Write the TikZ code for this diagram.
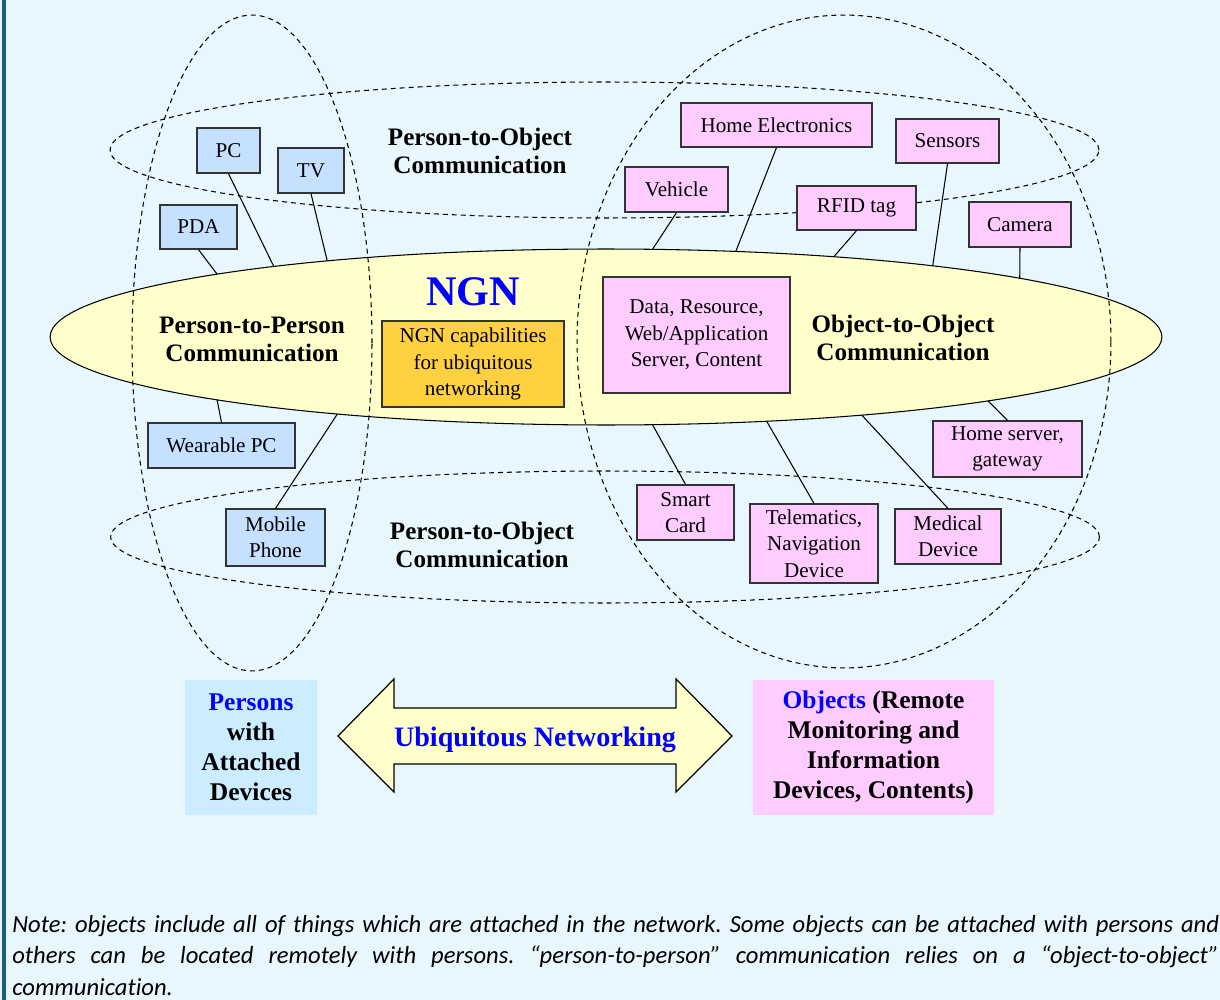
\documentclass[tikz,border=0pt]{standalone}
\usepackage{fontspec}
\setmainfont{Liberation Serif}
\newfontfamily\notefont[Ligatures=NoCommon]{Carlito}
\usetikzlibrary{shapes.geometric}
\definecolor{bg}{RGB}{232,247,253}
\definecolor{edge}{RGB}{27,94,128}
\definecolor{pblue}{RGB}{198,224,255}
\definecolor{opink}{RGB}{255,204,255}
\definecolor{ngnyellow}{RGB}{255,255,204}
\definecolor{capgold}{RGB}{255,208,64}
\definecolor{pcyan}{RGB}{204,236,255}
\begin{document}
\begin{tikzpicture}[x=0.02cm,y=-0.02cm,
  box/.style={draw=black!80,line width=0.7pt,inner sep=0pt,align=center,font=\fontsize{12}{15}\selectfont},
  dev/.style={box,fill=pblue},
  obj/.style={box,fill=opink},
  ring/.style={dash pattern=on 2.8pt off 2.3pt,line width=0.6pt},
  lbl/.style={align=center,font=\fontsize{14.3}{16}\selectfont\bfseries},
  big/.style={align=center,inner sep=0pt,font=\fontsize{14.5}{17}\selectfont\bfseries},
  link/.style={line width=0.6pt}]
\useasboundingbox (0,0) rectangle (1220,1000);
\fill[bg] (0,0) rectangle (1220,1000);
\fill[edge] (2,0) rectangle (6,1000);

\node[draw,ellipse,fill=ngnyellow,line width=0.6pt,inner sep=0pt,minimum width=22.24cm,minimum height=3.52cm](N) at (606,337){};
\draw[ring] (252,343) ellipse [x radius=2.4cm,y radius=6.56cm];
\draw[ring] (844,341.5) ellipse [x radius=5.34cm,y radius=6.53cm];
\draw[ring] (604.5,150) ellipse [x radius=9.89cm,y radius=1.36cm];
\draw[ring] (605,537) ellipse [x radius=9.89cm,y radius=1.32cm];

\node[lbl](T1) at (480,151){Person-to-Object\\Communication};
\node[lbl](T2) at (482,545){Person-to-Object\\Communication};
\node[lbl](T3) at (252,339){Person-to-Person\\Communication};
\node[lbl](T4) at (903,338){Object-to-Object\\Communication};
\node[text=blue,font=\fontsize{24}{28}\selectfont\bfseries,inner sep=0pt](T0) at (473,292){NGN};

\node[box,fill=capgold,minimum width=3.64cm,minimum height=1.72cm](G) at (473,364){NGN capabilities\\for ubiquitous\\networking};
\node[obj,minimum width=3.74cm,minimum height=2.32cm](S) at (696.5,335){Data, Resource,\\Web/Application\\Server, Content};

\node[dev,minimum width=1.26cm,minimum height=0.9cm](P1) at (228.5,150.5){PC};
\node[dev,minimum width=1.32cm,minimum height=0.9cm](P2) at (311,170.5){TV};
\node[dev,minimum width=1.54cm,minimum height=0.88cm](P3) at (198.5,227){PDA};
\node[dev,minimum width=2.94cm,minimum height=0.9cm](P4) at (221.5,445.5){Wearable PC};
\node[dev,minimum width=1.98cm,minimum height=1.14cm](P5) at (275.5,537.5){Mobile\\Phone};

\node[obj,minimum width=2.06cm,minimum height=0.9cm](O1) at (676.5,189.5){Vehicle};
\node[obj,minimum width=3.82cm,minimum height=0.88cm](O2) at (776.5,125){Home Electronics};
\node[obj,minimum width=2.38cm,minimum height=0.88cm](O3) at (856.5,208){RFID tag};
\node[obj,minimum width=2.06cm,minimum height=0.88cm](O4) at (947.5,141){Sensors};
\node[obj,minimum width=2.04cm,minimum height=0.9cm](O5) at (1020,224.5){Camera};
\node[obj,minimum width=1.94cm,minimum height=1.1cm](O6) at (685.5,512.5){Smart\\Card};
\node[obj,minimum width=2.56cm,minimum height=1.58cm](O7) at (814,543.5){Telematics,\\Navigation\\Device};
\node[obj,minimum width=2.12cm,minimum height=1.1cm](O8) at (948,536.5){Medical\\Device};
\node[obj,minimum width=2.98cm,minimum height=1.12cm](O9) at (1007.5,449){Home server,\\gateway};

\draw[link](P1.south)--([shift={(N.center)}]126.7:11.12cm and 1.76cm);
\draw[link](P2.south)--([shift={(N.center)}]120.1:11.12cm and 1.76cm);
\draw[link](P3.south)--([shift={(N.center)}]134.4:11.12cm and 1.76cm);
\draw[link](P4.north)--([shift={(N.center)}]225.6:11.12cm and 1.76cm);
\draw[link](P5.north)--([shift={(N.center)}]241.1:11.12cm and 1.76cm);
\draw[link](O1.south)--([shift={(N.center)}]85.2:11.12cm and 1.76cm);
\draw[link](O2.south)--([shift={(N.center)}]76.5:11.12cm and 1.76cm);
\draw[link](O3.south)--([shift={(N.center)}]65.8:11.12cm and 1.76cm);
\draw[link](O4.south)--([shift={(N.center)}]54:11.12cm and 1.76cm);
\draw[link](O5.south)--([shift={(N.center)}]41.9:11.12cm and 1.76cm);
\draw[link](O6.north)--([shift={(N.center)}]274.8:11.12cm and 1.76cm);
\draw[link](O7.north)--([shift={(N.center)}]286.8:11.12cm and 1.76cm);
\draw[link](O8.north)--([shift={(N.center)}]297.4:11.12cm and 1.76cm);
\draw[link](O9.north)--([shift={(N.center)}]313.4:11.12cm and 1.76cm);

\node[big,fill=pcyan,minimum width=2.64cm,minimum height=2.7cm](A) at (251,747.5){{\color{blue}Persons}\\with\\Attached\\Devices};
\node[big,fill=opink,minimum width=4.82cm,minimum height=2.7cm](B) at (873.5,747.5){{\color{blue}Objects} (Remote\\Monitoring and\\Information\\Devices, Contents)};
\draw[fill=ngnyellow,line width=0.7pt] (338,736)--(394,679)--(394,708)--(676,708)--(676,679)--(732,736)--(676,792)--(676,764)--(394,764)--(394,792)--cycle;
\node[text=blue,font=\fontsize{16}{18}\selectfont\bfseries](U) at (535,740){Ubiquitous Networking};

\node[anchor=base west,inner sep=0pt,text width=24.14cm,align=justify,font=\notefont\itshape\fontsize{14}{18}\selectfont](C) at (12,932){\frenchspacing Note: objects include all of things which are attached in the network. Some objects can be attached with persons and\linebreak others can be located remotely with persons. “person-to-person” communication relies on a “object-to-object”\linebreak communication.};
\end{tikzpicture}
\end{document}
